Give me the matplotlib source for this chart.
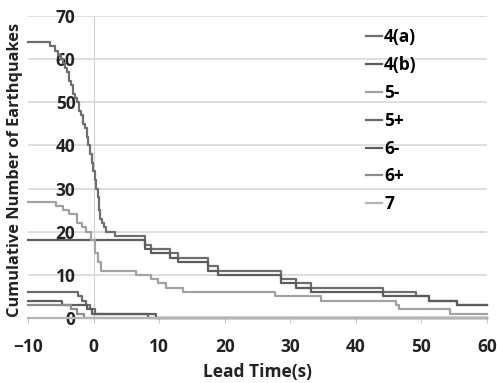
import matplotlib
matplotlib.use("Agg")
import matplotlib.pyplot as plt

plt.rcParams["font.family"] = ["Open Sans", "DejaVu Sans"]
plt.rcParams["font.weight"] = "bold"

# step points (lead time s, cumulative count), values held until next point
labels = ["4(a)", "4(b)", "5-", "5+", "6-", "6+", "7"]

a_x = [-10, -6.7, -5.9, -5.4, -5.0, -4.6, -4.3, -4.0, -3.7, -3.4, -3.1, -2.8, -2.5, -2.2, -1.9,
       -1.6, -1.3, -1.0, -0.8, -0.5, -0.3, -0.1, 0.2, 0.4, 0.6, 0.8, 1.0, 1.3, 1.6, 1.9, 3.2,
       7.8, 8.8, 11.6, 12.8, 17.4, 18.9, 28.6, 30.9, 33.2, 44.1, 49.2, 51.2, 55.5, 60]
a_y = [64, 63, 62, 61, 60, 59, 58, 57, 55, 54, 52, 51, 50, 48, 47,
       45, 44, 42, 40, 38, 36, 34, 32, 30, 28, 25, 23, 22, 21, 20, 19,
       17, 16, 15, 14, 12, 11, 9, 8, 7, 6, 5, 4, 3, 3]

b_x = [-10, 7.8, 8.8, 11.6, 12.8, 17.4, 18.9, 28.6, 30.9, 33.2, 44.1, 51.2, 55.5, 60]
b_y = [18, 16, 15, 14, 13, 11, 10, 8, 7, 6, 5, 4, 3, 3]

c_x = [-10, -5.7, -4.7, -3.7, -2.6, -1.7, -1.1, -0.4, 0.2, 0.6, 1.2, 6.5, 8.8, 9.8, 11.1,
       13.6, 27.6, 34.7, 46.1, 46.6, 54.3, 60]
c_y = [27, 26, 25, 24, 22, 21, 20, 18, 15, 13, 11, 10, 9, 8, 7,
       6, 5, 4, 3, 2, 1, 1]

d_x = [-10, -2.3, -1.8, -1.2, -0.6, 0.2, 8.3, 60]
d_y = [6, 5, 4, 3, 2, 1, 0, 0]

e_x = [-10, -4.8, -1.0, -0.2, 9.5, 60]
e_y = [4, 3, 2, 1, 0, 0]

f_x = [-10, -3.5, -2.5, -1.5, 60]
f_y = [3, 2, 1, 0, 0]

g_x = [-10, 60]
g_y = [0, 0]

series_x = [a_x, b_x, c_x, d_x, e_x, f_x, g_x]
series_y = [a_y, b_y, c_y, d_y, e_y, f_y, g_y]
colors = ["#6e6e6e", "#5c5c5c", "#a2a2a2", "#6a6a6a", "#5e5e5e", "#8c8c8c", "#b4b4b4"]

fig = plt.figure(figsize=(4.97, 3.83), dpi=100)
ax = fig.add_axes([28 / 497, 1 - 318 / 383, 459 / 497, 302 / 383])

for xs, ys, col, lab in zip(series_x, series_y, colors, labels):
    ax.step(xs, ys, where="post", color=col, lw=1.6, label=lab, clip_on=False, zorder=3)

ax.set_xlim(-10, 60)
ax.set_ylim(0, 70)
ax.set_xticks(range(-10, 61, 10))
ax.set_yticks(range(0, 71, 10))

ax.yaxis.grid(True, color="#d6d6d6", lw=1.1)
ax.set_axisbelow(True)
for s in ("top", "right"):
    ax.spines[s].set_visible(False)
ax.spines["left"].set_position(("data", 0))
ax.spines["left"].set_color("#d0d0d0")
ax.spines["bottom"].set_color("#c8c8c8")
ax.spines["bottom"].set_linewidth(1.1)

ax.tick_params(axis="y", length=0, pad=13, labelsize=12.5, colors="#222222")
ax.tick_params(axis="x", length=3.6, direction="out", color="#c8c8c8",
               pad=10.5, labelsize=12.5, labelcolor="#222222")

ax.set_xlabel("Lead Time(s)", fontsize=12.5, fontweight="bold", color="#222222")
ax.xaxis.set_label_coords(0.5, -0.15)
ax.set_ylabel("Cumulative Number of Earthquakes", fontsize=11.8, fontweight="bold", color="#222222")
ax.yaxis.set_label_coords(-0.01, 0.49)

fig.legend(loc="upper left", bbox_to_anchor=(366 / 497, 1 - 28 / 383), frameon=False,
           fontsize=12.5, handlelength=0.9, handletextpad=0.15, labelspacing=0.57,
           borderpad=0, borderaxespad=0)

fig.savefig("out.png", dpi=100)
